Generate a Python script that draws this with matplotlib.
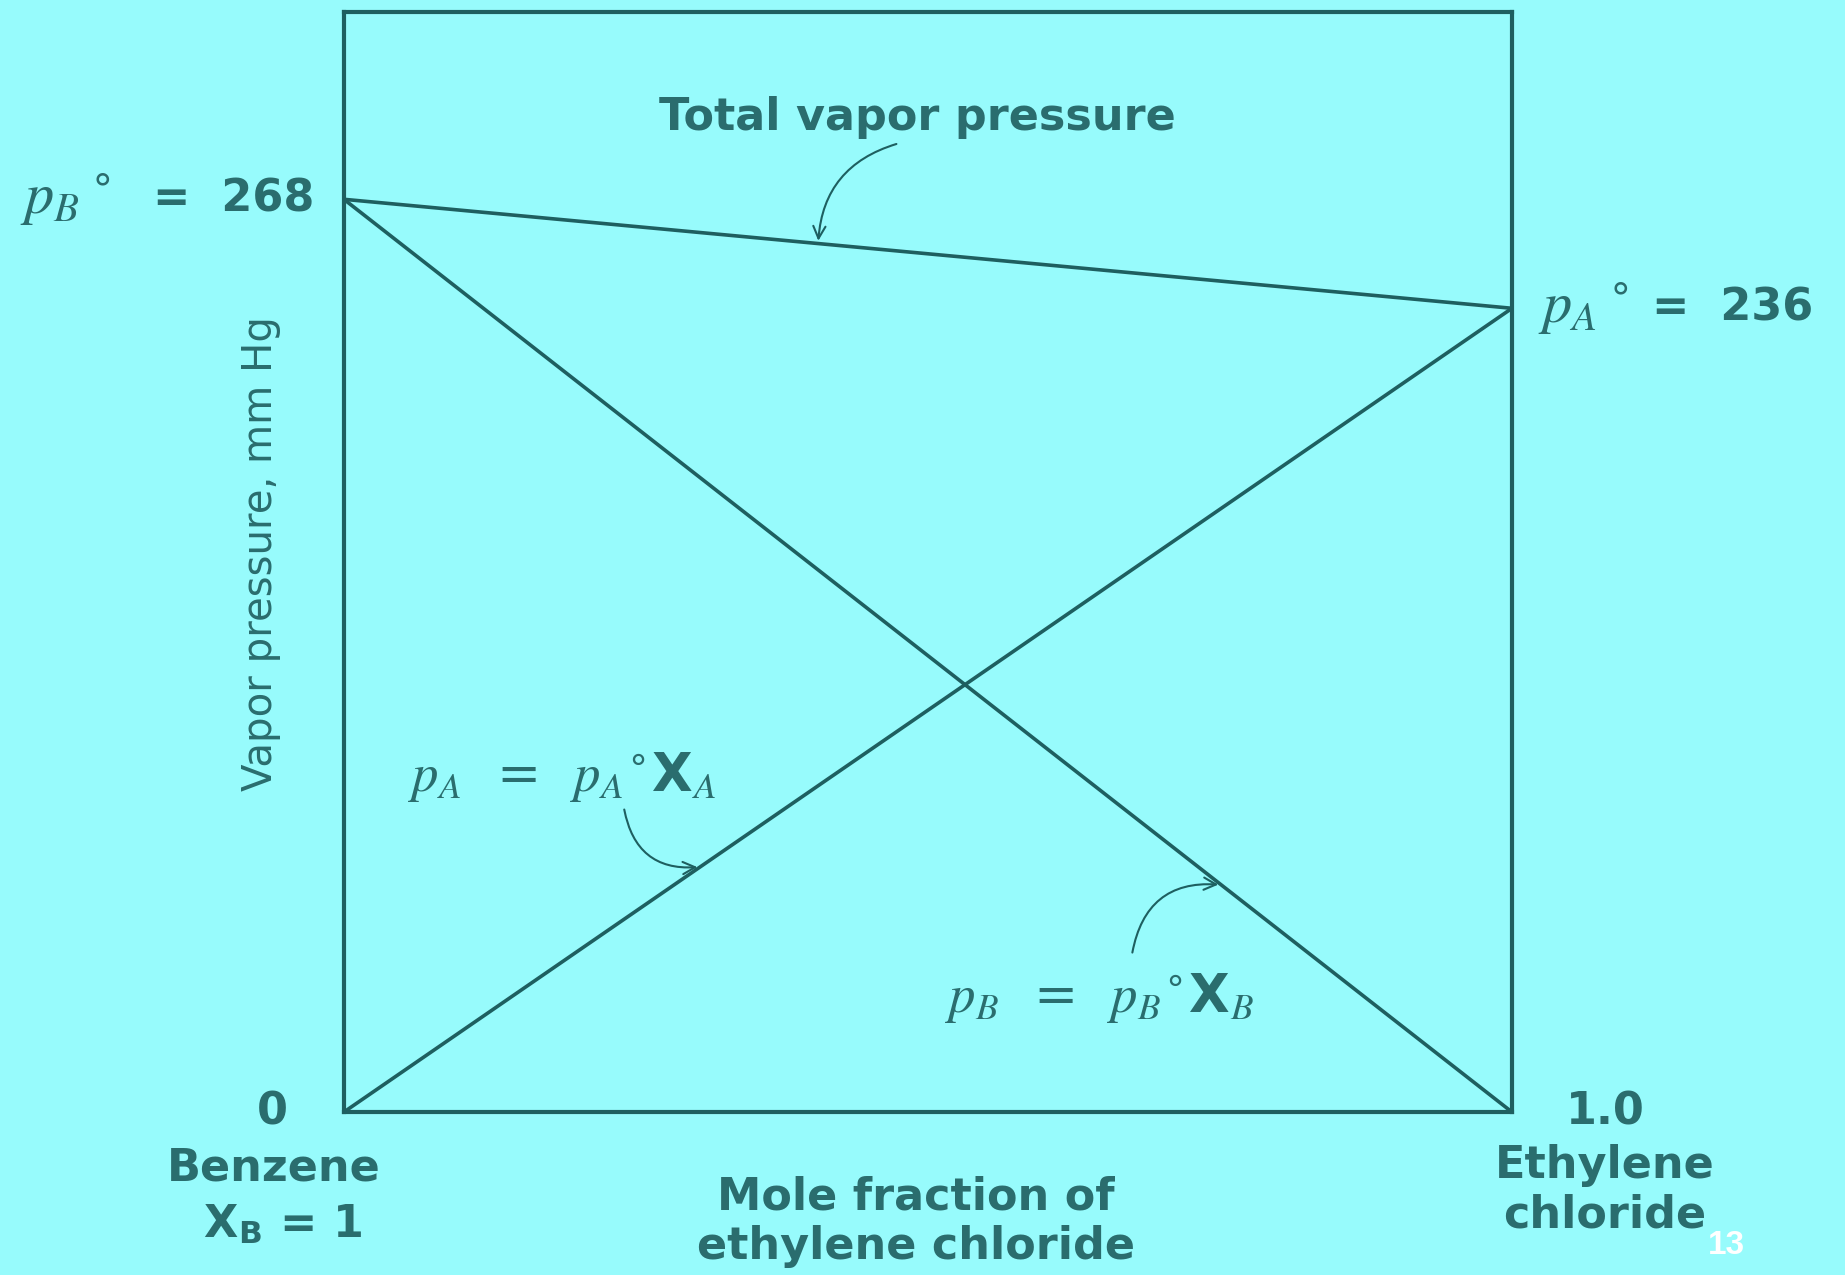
import matplotlib
matplotlib.use("Agg")
import matplotlib.pyplot as plt

# mole fraction of ethylene chloride at the two ends
x_frac = [0.0, 1.0]
p_benzene = [268, 0]      # p_B = p_B° X_B
p_ethylene = [0, 236]     # p_A = p_A° X_A
p_total = [268, 236]      # total vapor pressure
p_b0 = 268
p_a0 = 236

bg = "#97fbfc"
ink = "#1e5f60"
txt = "#2a6d6e"

# serif italic p, sans upright X
plt.rcParams["mathtext.fontset"] = "custom"
plt.rcParams["mathtext.it"] = "STIXGeneral:italic"
plt.rcParams["mathtext.rm"] = "DejaVu Sans"
plt.rcParams["mathtext.sf"] = "DejaVu Sans"
plt.rcParams["mathtext.bf"] = "DejaVu Sans:bold"
plt.rcParams["mathtext.fallback"] = "stix"

fig = plt.figure(figsize=(18.45, 12.75), dpi=100, facecolor=bg)
ax = fig.add_axes([0.1864, 0.1278, 0.6331, 0.8628], facecolor=bg)

ax.plot(x_frac, p_total, color=ink, lw=2.6, solid_capstyle="butt")
ax.plot(x_frac, p_benzene, color=ink, lw=2.6, solid_capstyle="butt")
ax.plot(x_frac, p_ethylene, color=ink, lw=2.6, solid_capstyle="butt")

ax.set_xlim(0, 1)
ax.set_ylim(0, 323)
ax.set_xticks([])
ax.set_yticks([])
for s in ax.spines.values():
    s.set_color(ink)
    s.set_linewidth(3)

lab = dict(color=txt, fontsize=32, fontweight="bold", family="DejaVu Sans")
mth = dict(color=txt, fontsize=42)
trans_y = ax.get_yaxis_transform()

# end values
ax.text(-0.025, p_b0, "=  268", ha="right", va="center", transform=trans_y, **lab)
ax.text(-0.200, p_b0, r"$p_{B}\,{}^{\circ}$", ha="right", va="center", transform=trans_y, **mth)
ax.text(1.120, p_a0, "=  236", ha="left", va="center", transform=trans_y, **lab)
ax.text(1.022, p_a0, r"$p_{A}\,{}^{\circ}$", ha="left", va="center", transform=trans_y, **mth)
ax.text(-0.061, 0, "0", ha="center", va="center", transform=trans_y, **lab)
ax.text(1.080, 0, "1.0", ha="center", va="center", transform=trans_y, **lab)

# bottom labels
ax.text(-0.060, -0.051, "Benzene", ha="center", va="center", transform=ax.transAxes, **lab)
ax.text(-0.053, -0.102, r"X$_\mathbf{B}$ = 1", ha="center", va="center",
        transform=ax.transAxes, **lab)
ax.text(0.490, -0.100, "Mole fraction of\nethylene chloride", ha="center", va="center",
        linespacing=1.2, transform=ax.transAxes, **lab)
ax.text(1.079, -0.071, "Ethylene\nchloride", ha="center", va="center",
        linespacing=1.2, transform=ax.transAxes, **lab)

ax.text(-0.071, 0.508, "Vapor pressure, mm Hg", rotation=90, ha="center", va="center",
        transform=ax.transAxes, color=txt, fontsize=29, family="DejaVu Sans")

# curve labels and their arrows
arrow = dict(arrowstyle="->", color=ink, lw=1.5, mutation_scale=22, shrinkA=0, shrinkB=2)
ax.text(0.491, 0.904, "Total vapor pressure", ha="center", va="center",
        transform=ax.transAxes, **lab)
ax.annotate("", xy=(0.406, 268 - 32 * 0.406), xytext=(0.473, 0.88),
            textcoords="axes fraction",
            arrowprops=dict(connectionstyle="arc3,rad=0.35", **arrow))

eq = dict(color=txt, fontsize=38)
ax.text(0.187, 0.305, r"$p_{A}\ \ =\ \ p_{A}{}^{\circ}\mathbf{X}_{A}$", ha="center",
        va="center", transform=ax.transAxes, **eq)
ax.annotate("", xy=(0.305, 236 * 0.305), xytext=(0.240, 0.275),
            textcoords="axes fraction",
            arrowprops=dict(connectionstyle="arc3,rad=0.45", **arrow))

ax.text(0.647, 0.104, r"$p_{B}\ \ =\ \ p_{B}{}^{\circ}\mathbf{X}_{B}$", ha="center",
        va="center", transform=ax.transAxes, **eq)
ax.annotate("", xy=(0.751, 268 * 0.249), xytext=(0.675, 0.145),
            textcoords="axes fraction",
            arrowprops=dict(connectionstyle="arc3,rad=-0.45", **arrow))

fig.text(0.9355, 0.0235, "13", color="white", fontsize=24, fontweight="bold",
         ha="center", va="center", family="Liberation Sans")

fig.savefig("out.png", dpi=100, facecolor=bg)
